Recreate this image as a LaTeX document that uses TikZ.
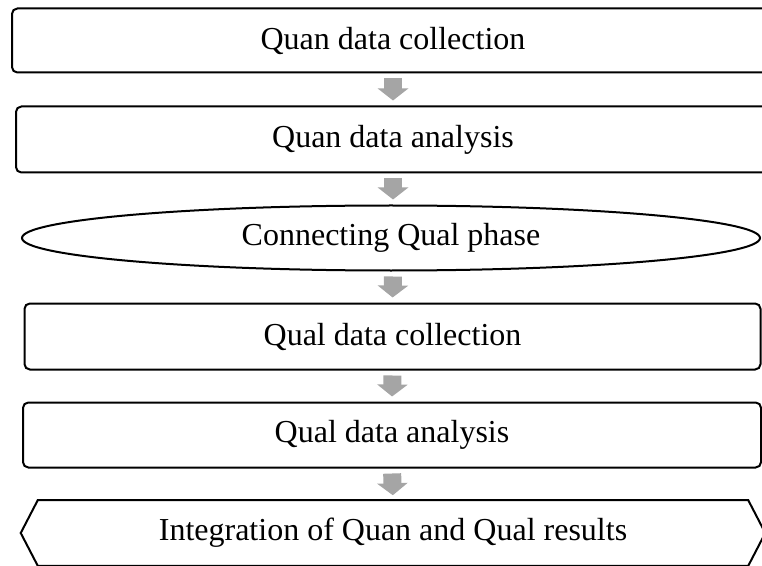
\documentclass[tikz,border=0pt]{standalone}
\usepackage{fontspec}
\setmainfont{Liberation Serif}
\usetikzlibrary{shapes.geometric,arrows.meta}
\definecolor{flowgray}{RGB}{165,165,165}
\tikzset{
  stage/.style={draw=black, line width=1.5pt, rounded corners=4pt, fill=white,
    inner sep=0pt, font=\fontsize{24}{28}\selectfont},
  oval/.style={ellipse, draw=black, line width=1.5pt, fill=white,
    inner sep=0pt, font=\fontsize{24}{28}\selectfont},
  plain/.style={inner sep=0pt, font=\fontsize{24}{28}\selectfont},
  flow/.style={draw=flowgray, line width=13.5pt,
    -{Triangle[width=22.5pt,length=9pt]}, shorten <=3.75pt, shorten >=3.75pt}
}
\begin{document}
\begin{tikzpicture}[x=0.75pt,y=-0.75pt]
  \useasboundingbox (0,0) rectangle (762,566);
  \clip (0,0) rectangle (762,566);

  % process stages, all centred on one vertical axis
  \node[stage, minimum width=571.5pt, minimum height=48pt]   (qncol) at (393,40.5)  {Quan data collection};
  \node[stage, minimum width=565.5pt, minimum height=49.5pt] (qnana) at (393,139.5) {Quan data analysis};
  \node[oval,  minimum width=553.5pt, minimum height=48.75pt](conn)  at (391,238)   {Connecting Qual phase};
  \node[stage, minimum width=552pt,   minimum height=49.5pt] (qlcol) at (392.5,336.5) {Qual data collection};
  \node[stage, minimum width=553.5pt, minimum height=48.75pt](qlana) at (392,435)   {Qual data analysis};
  \node[plain, minimum width=532.5pt, minimum height=48.75pt](integ) at (393,533)   {Integration of Quan and Qual results};

  % hexagonal outline of the final stage
  \draw[line width=1.5pt, line join=miter]
    ([xshift=-12.75pt]integ.west) -- (integ.north west) -- (integ.north east)
    -- ([xshift=12.75pt]integ.east) -- (integ.south east) -- (integ.south west) -- cycle;

  % block arrows between stages
  \draw[flow] (qncol.south) -- (qnana.north);
  \draw[flow] (qnana.south) -- (qnana.south |- conn.north);
  \draw[flow] (qnana.south |- conn.south) -- (qlcol.north);
  \draw[flow] (qlcol.south) -- (qlana.north);
  \draw[flow] (qlana.south) -- (integ.north);
\end{tikzpicture}
\end{document}
